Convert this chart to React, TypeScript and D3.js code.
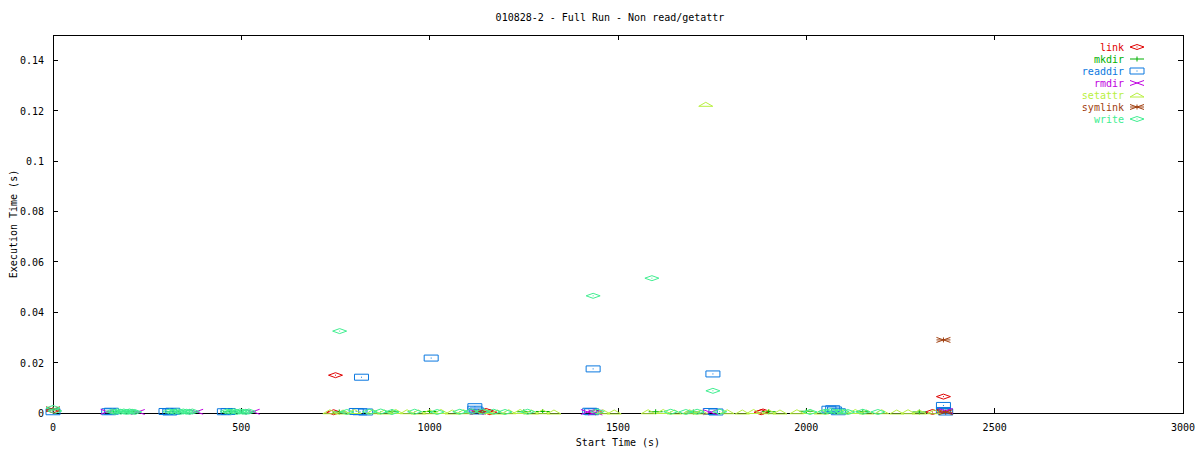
import { useEffect, useRef } from 'react';
import * as d3 from 'd3';

type Pt = [number, number];

const title = '010828-2 - Full Run - Non read/getattr';
const xTicks = [0, 500, 1000, 1500, 2000, 2500, 3000];
const yTicks = [0, 0.02, 0.04, 0.06, 0.08, 0.1, 0.12, 0.14];

const linkPts: Pt[] = [[0, 0.001], [745, 0.0003], [750, 0.015], [1150, 0.0008], [1160, 0.0003], [1440, 0.0003],
  [1880, 0.0003], [1885, 0.0006], [2335, 0.0004], [2364, 0.0065], [2364, 0.0012]];
const mkdirPts: Pt[] = [[160, 0.0005], [200, 0.0005], [320, 0.0005], [470, 0.0005], [760, 0.0004], [900, 0.0005],
  [1000, 0.0006], [1250, 0.0005], [1300, 0.0006], [1600, 0.0005], [1700, 0.0004], [1900, 0.0005], [2000, 0.0007],
  [2150, 0.0005], [2300, 0.0004]];
const readdirPts: Pt[] = [[0, 0.0005], [148, 0.0005], [155, 0.0007], [300, 0.0006], [310, 0.0004], [318, 0.0007],
  [455, 0.0005], [465, 0.0006], [805, 0.0006], [815, 0.0005], [819, 0.0142], [830, 0.0004], [1004, 0.0218],
  [1120, 0.0025], [1120, 0.0015], [1125, 0.0008], [1434, 0.0175], [1425, 0.0007], [1430, 0.0005], [1745, 0.0006],
  [1752, 0.0155], [1760, 0.0004], [2060, 0.0015], [2070, 0.0017], [2075, 0.0012], [2085, 0.0005], [2364, 0.003],
  [2364, 0.001], [2370, 0.0004]];
const rmdirPts: Pt[] = [[145, 0.0005], [225, 0.0004], [380, 0.0005], [530, 0.0005], [1125, 0.0004], [1420, 0.0004],
  [1440, 0.0002], [1745, 0.0003], [2370, 0.0008]];
const setattrPts: Pt[] = [[735, 0.0005], [770, 0.0004], [800, 0.0006], [850, 0.0005], [880, 0.0004], [910, 0.0006],
  [940, 0.0005], [970, 0.0004], [1000, 0.0005], [1030, 0.0006], [1060, 0.0004], [1090, 0.0005], [1150, 0.0006],
  [1180, 0.0004], [1210, 0.0005], [1240, 0.0006], [1270, 0.0004], [1300, 0.0005], [1330, 0.0004], [1460, 0.0005],
  [1490, 0.0004], [1580, 0.0005], [1620, 0.0006], [1650, 0.0004], [1690, 0.0005], [1720, 0.0004], [1733, 0.1225],
  [1790, 0.0005], [1830, 0.0004], [1860, 0.0006], [1900, 0.0005], [1930, 0.0004], [1975, 0.0005], [2010, 0.0006],
  [2040, 0.0004], [2100, 0.0005], [2130, 0.0006], [2160, 0.0004], [2200, 0.0005], [2240, 0.0004], [2270, 0.0005],
  [2300, 0.0004], [2340, 0.0005]];
const symlinkPts: Pt[] = [[0, 0.0015], [1130, 0.0005], [2364, 0.029], [2370, 0.0003]];
const writePts: Pt[] = [[0, 0.002], [5, 0.0008], [158, 0.0006], [165, 0.0004], [172, 0.0007], [180, 0.0005],
  [188, 0.0006], [195, 0.0004], [203, 0.0006], [210, 0.0005], [217, 0.0004], [310, 0.0006], [322, 0.0005],
  [330, 0.0007], [338, 0.0004], [346, 0.0006], [354, 0.0005], [362, 0.0004], [370, 0.0006], [462, 0.0006],
  [472, 0.0005], [480, 0.0007], [488, 0.0004], [496, 0.0006], [504, 0.0005], [512, 0.0004], [520, 0.0006],
  [761, 0.0325], [780, 0.0004], [840, 0.0005], [870, 0.0006], [900, 0.0004], [960, 0.0005], [1020, 0.0004],
  [1080, 0.0005], [1110, 0.0006], [1140, 0.0006], [1170, 0.0005], [1200, 0.0004], [1260, 0.0005], [1434, 0.0465],
  [1445, 0.0006], [1590, 0.0535], [1640, 0.0005], [1680, 0.0004], [1710, 0.0005], [1752, 0.0088], [1770, 0.0005],
  [2010, 0.0004], [2050, 0.0005], [2065, 0.0008], [2080, 0.0005], [2095, 0.0006], [2110, 0.0004], [2150, 0.0005],
  [2190, 0.0004]];

const series = [
  { name: 'link', color: '#e00000', shape: 'diamond', pts: linkPts },
  { name: 'mkdir', color: '#00b000', shape: 'plus', pts: mkdirPts },
  { name: 'readdir', color: '#0a78e0', shape: 'box', pts: readdirPts },
  { name: 'rmdir', color: '#c000e0', shape: 'cross', pts: rmdirPts },
  { name: 'setattr', color: '#b8f040', shape: 'triangle', pts: setattrPts },
  { name: 'symlink', color: '#a04010', shape: 'star', pts: symlinkPts },
  { name: 'write', color: '#40ee90', shape: 'diamond', pts: writePts },
];

// point glyph, about 14x5 px like the stretched gnuplot png marks
function glyph(shape: string): string {
  const w = 7, h = 2.5;
  switch (shape) {
    case 'diamond': return `M${-w},0L0,${-h}L${w},0L0,${h}Z M-0.5,0h1`;
    case 'plus': return `M${-w},0H${w} M0,${-h}V${h}`;
    case 'box': return `M${-w},${-h - 0.5}H${w}V${h + 0.5}H${-w}Z M-0.5,0h1`;
    case 'cross': return `M${-w},${-h}L${w},${h} M${-w},${h}L${w},${-h}`;
    case 'triangle': return `M${-w},${h - 0.5}L0,${-h + 0.5}L${w},${h - 0.5}Z`;
    case 'star': return `M${-w},${-h}L${w},${h} M${-w},${h}L${w},${-h} M${-w},0H${w} M0,${-h}V${h}`;
  }
  return '';
}

export default function App() {
  const svgRef = useRef<SVGSVGElement>(null);

  useEffect(() => {
    document.body.style.margin = '0';
    const width = 1200;
    const height = 450;
    const margin = { top: 35, right: 17, bottom: 37, left: 53 };
    const font = '"DejaVu Sans Mono", monospace';

    const svg = d3.select(svgRef.current)
      .attr('width', width)
      .attr('height', height);
    svg.selectAll('*').remove();

    const x = d3.scaleLinear().domain([0, 3000]).range([margin.left, width - margin.right]);
    const y = d3.scaleLinear().domain([0, 0.15]).range([height - margin.bottom, margin.top]);

    svg.append('rect').attr('width', width).attr('height', height).attr('fill', '#fff');

    const g = svg.append('g').attr('font-family', font).attr('font-size', 10).attr('fill', '#000');

    // ticks inward on all four sides
    const ticks = g.append('g').attr('stroke', '#000').attr('shape-rendering', 'crispEdges');
    xTicks.forEach(t => {
      ticks.append('line').attr('x1', x(t)).attr('x2', x(t)).attr('y1', y(0)).attr('y2', y(0) - 5);
      ticks.append('line').attr('x1', x(t)).attr('x2', x(t)).attr('y1', y(0.15)).attr('y2', y(0.15) + 5);
      g.append('text').attr('x', x(t)).attr('y', y(0) + 18).attr('text-anchor', 'middle').text(String(t));
    });
    yTicks.forEach(t => {
      ticks.append('line').attr('x1', x(0)).attr('x2', x(0) + 5).attr('y1', y(t)).attr('y2', y(t));
      ticks.append('line').attr('x1', x(3000)).attr('x2', x(3000) - 5).attr('y1', y(t)).attr('y2', y(t));
      g.append('text').attr('x', x(0) - 9).attr('y', y(t) + 4).attr('text-anchor', 'end').text(String(t));
    });

    g.append('rect')
      .attr('x', x(0)).attr('y', y(0.15))
      .attr('width', x(3000) - x(0)).attr('height', y(0) - y(0.15))
      .attr('fill', 'none').attr('stroke', '#000').attr('shape-rendering', 'crispEdges');

    g.append('text').attr('x', 610).attr('y', 21).attr('text-anchor', 'middle').text(title);
    g.append('text').attr('x', (x(0) + x(3000)) / 2).attr('y', 446).attr('text-anchor', 'middle').text('Start Time (s)');
    g.append('text').attr('transform', `translate(17,${(y(0) + y(0.15)) / 2}) rotate(-90)`)
      .attr('text-anchor', 'middle').text('Execution Time (s)');

    series.forEach((s, i) => {
      const d = glyph(s.shape);
      g.append('g').selectAll('path').data(s.pts).enter().append('path')
        .attr('transform', p => `translate(${x(p[0])},${y(p[1])})`)
        .attr('d', d)
        .attr('fill', 'none')
        .attr('stroke', s.color)
        .attr('stroke-width', 1);

      const ly = 47 + i * 12;
      g.append('text').attr('x', 1124).attr('y', ly + 4).attr('text-anchor', 'end')
        .attr('fill', s.color).text(s.name);
      g.append('path').attr('transform', `translate(1137,${ly})`).attr('d', d)
        .attr('fill', 'none').attr('stroke', s.color);
    });
  }, []);

  return <svg ref={svgRef}></svg>;
}
